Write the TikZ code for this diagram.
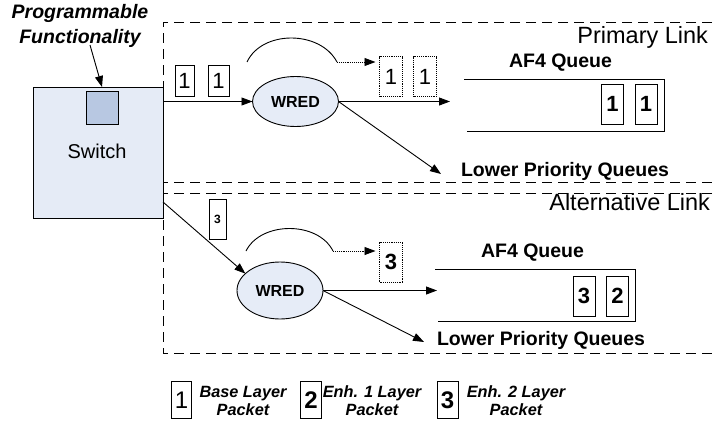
\documentclass[tikz,border=0pt]{standalone}
\usepackage{fontspec}
\setmainfont{Liberation Sans}
\usetikzlibrary{arrows.meta,shapes.geometric}
\definecolor{swfill}{HTML}{E5EBF6}
\definecolor{sqfill}{HTML}{B8C8E2}
\definecolor{wrfill}{HTML}{E6ECF7}
\begin{document}
\begin{tikzpicture}[x=1pt,y=-1pt,
  every node/.style={inner sep=0pt,outer sep=0pt},
  thinline/.style={line width=0.9pt},
  arr/.style={line width=0.9pt,-{Triangle[length=11pt,width=8pt]}},
  linkbox/.style={line width=0.9pt,dash pattern=on 10pt off 6pt},
  pkt/.style={draw,line width=0.9pt,fill=white,font=\fontsize{22}{22}\selectfont},
  pktdot/.style={draw,line width=0.9pt,densely dotted,fill=white,font=\fontsize{22}{22}\selectfont},
  wred/.style={draw,ellipse,line width=0.9pt,fill=wrfill,font=\bfseries\fontsize{16}{16}\selectfont},
  lbl/.style={font=\bfseries\fontsize{19.5}{19.5}\selectfont},
  linklbl/.style={font=\fontsize{23.5}{23.5}\selectfont,anchor=base east},
  legtxt/.style={font=\bfseries\itshape\fontsize{16.3}{18}\selectfont,align=center}
]
\useasboundingbox (0,0) rectangle (715,423);

% link boxes
\draw[linkbox] (712,22) -- (163,22) -- (163,182) -- (712,182);
\draw[linkbox] (712,193) -- (163,193) -- (163,353) -- (712,353);
\node[linklbl] (plink) at (708,43) {Primary Link};
\node[linklbl] (alink) at (710,210) {Alternative Link};

% switch
\node[draw,thinline,fill=swfill,minimum width=130pt,minimum height=131pt] (sw) at (98,152.5) {};
\node[draw,thinline,fill=sqfill,minimum width=32pt,minimum height=33pt] (sq) at (102,107.5) {};
\node[font=\fontsize{20}{20}\selectfont] (swl) at (97,151) {Switch};
\node[font=\bfseries\itshape\fontsize{19.5}{25}\selectfont,align=center] (prog) at (80,25.5) {Programmable\\Functionality};
\coordinate (pa) at (90,45);
\draw[arr] (pa) -- ([yshift=4pt]sq.north);

% primary link
\node[wred,minimum width=86pt,minimum height=50pt] (w1) at (295.5,101.5) {WRED};
\node[pkt,minimum width=19pt,minimum height=31pt] (p1) at (184.5,80.5) {1};
\node[pkt,minimum width=21pt,minimum height=31pt] (p2) at (218.5,80.5) {1};
\draw[arr] (sw.east |- w1.west) -- (w1.west);
\coordinate (c1s) at (247,62);
\coordinate (c1e) at (337,62);
\node[pktdot,minimum width=23pt,minimum height=40pt] (d1) at (391,76.5) {1};
\node[pktdot,minimum width=23pt,minimum height=40pt] (d2) at (425,76.5) {1};
\draw[thinline] (c1s) .. controls (262,30) and (320,30) .. (c1e);
\draw[arr,densely dotted] (c1e) -- ([xshift=-4pt]d1.west |- c1e);
\coordinate (q1in) at (450,101.5);
\draw[arr] (w1.east) -- (q1in);
\node[lbl] (af1) at (560.5,63) {AF4 Queue};
\draw[thinline] (464,79) -- (664,79) -- (664,131) -- (467,131);
\node[pkt,font=\bfseries\fontsize{22}{22}\selectfont,minimum width=22pt,minimum height=40pt] (q1) at (612.5,104) {1};
\node[pkt,font=\bfseries\fontsize{22}{22}\selectfont,minimum width=22pt,minimum height=40pt] (q2) at (646,104) {1};
\node[lbl,anchor=west] (lp1) at (461,171) {Lower Priority Queues};
\coordinate (lp1t) at (441,174);
\draw[arr] (w1.east) -- (lp1t);

% alternative link
\node[wred,minimum width=86pt,minimum height=57pt] (w2) at (280,290.5) {WRED};
\node[pkt,font=\bfseries\fontsize{12}{12}\selectfont,minimum width=17pt,minimum height=40pt] (a3) at (217.5,219) {3};
\coordinate (s2) at (163,202);
\draw[arr] (s2) -- (w2.154);
\coordinate (c2s) at (246,251);
\coordinate (c2e) at (333,251);
\node[pktdot,font=\bfseries\fontsize{22}{22}\selectfont,minimum width=23pt,minimum height=40pt] (d3) at (391,262) {3};
\draw[thinline] (c2s) .. controls (261,221) and (318,221) .. (c2e);
\draw[arr,densely dotted] (c2e) -- ([xshift=-4pt]d3.west |- c2e);
\coordinate (q2in) at (437,290.5);
\draw[arr] (w2.east) -- (q2in);
\node[lbl] (af2) at (532.5,253) {AF4 Queue};
\draw[thinline] (435,269) -- (635,269) -- (635,321) -- (438,321);
\node[pkt,font=\bfseries\fontsize{22}{22}\selectfont,minimum width=22pt,minimum height=40pt] (q3) at (584,296) {3};
\node[pkt,font=\bfseries\fontsize{22}{22}\selectfont,minimum width=22pt,minimum height=40pt] (q4) at (617.5,296) {2};
\node[lbl,anchor=west] (lp2) at (437,340) {Lower Priority Queues};
\coordinate (lp2t) at (424,342);
\draw[arr] (w2.east) -- (lp2t);

% legend
\node[pkt,font=\fontsize{24}{24}\selectfont,minimum width=20pt,minimum height=37pt] (l1) at (181.5,400) {1};
\node[pkt,font=\bfseries\fontsize{24}{24}\selectfont,minimum width=21pt,minimum height=37pt] (l2) at (311,400) {2};
\node[pkt,font=\bfseries\fontsize{24}{24}\selectfont,minimum width=21pt,minimum height=37pt] (l3) at (447.5,400) {3};
\node[legtxt] (t1) at (243,401) {Base Layer\\Packet};
\node[legtxt] (t2) at (372,401) {Enh. 1 Layer\\Packet};
\node[legtxt] (t3) at (516,401) {Enh. 2 Layer\\Packet};
\end{tikzpicture}
\end{document}
